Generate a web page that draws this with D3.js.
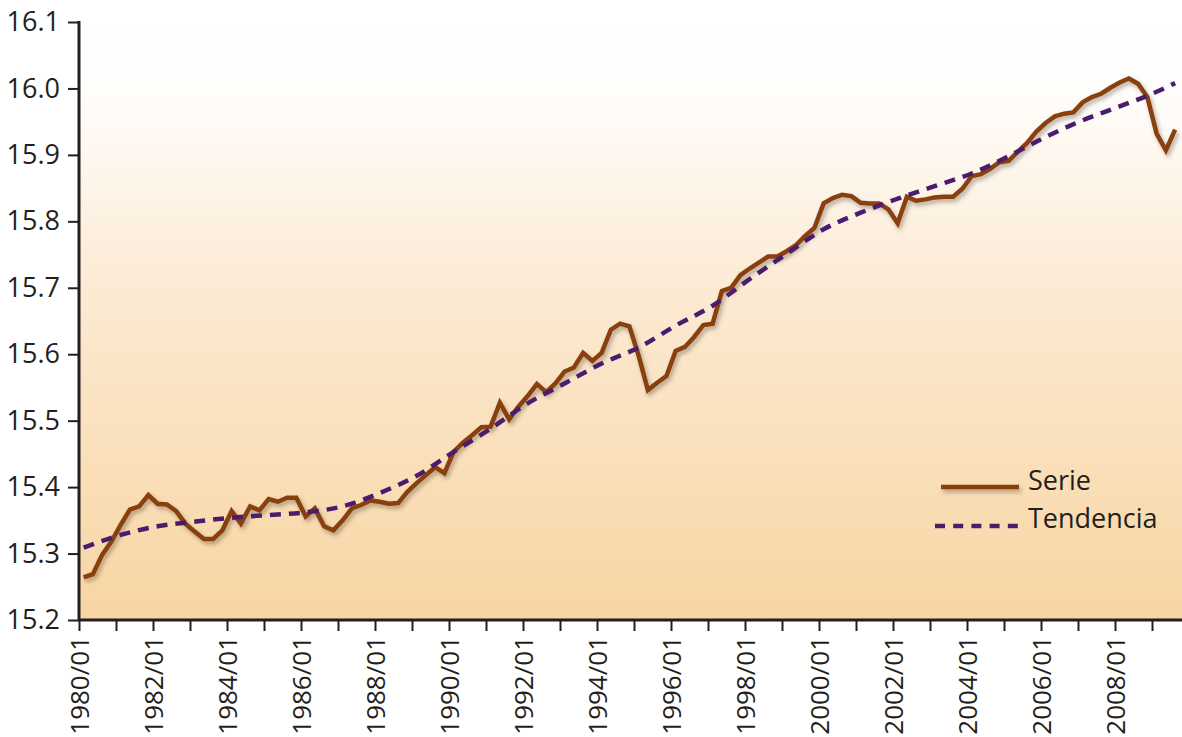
<!DOCTYPE html>
<html>
<head>
<meta charset="utf-8">
<script src="https://cdnjs.cloudflare.com/ajax/libs/d3/7.8.5/d3.min.js"></script>
<style>
  body { margin: 0; background: #fff; }
  svg { display: block; }
</style>
</head>
<body>
<script>
// quarterly series, 1980 Q1 .. 2009 Q3
var serie = [
  15.264, 15.269, 15.298, 15.318, 15.343, 15.366, 15.371, 15.388, 15.375, 15.374,
  15.364, 15.345, 15.333, 15.322, 15.322, 15.335, 15.364, 15.345, 15.371, 15.365,
  15.382, 15.378, 15.384, 15.384, 15.356, 15.368, 15.341, 15.335, 15.350, 15.368,
  15.373, 15.380, 15.378, 15.375, 15.376, 15.393, 15.406, 15.418, 15.430, 15.421,
  15.453, 15.467, 15.478, 15.490, 15.491, 15.527, 15.502, 15.521, 15.537, 15.555,
  15.543, 15.556, 15.574, 15.580, 15.602, 15.590, 15.602, 15.637, 15.646, 15.642,
  15.598, 15.546, 15.557, 15.567, 15.605, 15.611, 15.626, 15.644, 15.646, 15.695,
  15.700, 15.719, 15.729, 15.738, 15.747, 15.747, 15.755, 15.764, 15.778, 15.790,
  15.827, 15.835, 15.840, 15.838, 15.828, 15.827, 15.827, 15.818, 15.797, 15.837,
  15.831, 15.833, 15.836, 15.837, 15.837, 15.849, 15.868, 15.871, 15.879, 15.889,
  15.891, 15.905, 15.918, 15.935, 15.948, 15.958, 15.962, 15.964, 15.979, 15.987,
  15.992, 16.001, 16.009, 16.015, 16.007, 15.987, 15.932, 15.907, 15.938
];

// trend read at each first quarter, plus the last quarter
var trendQuarter = [0, 4, 8, 12, 16, 20, 24, 28, 32, 36, 40, 44, 48, 52, 56, 60,
  64, 68, 72, 76, 80, 84, 88, 92, 96, 100, 104, 108, 112, 116, 118];
var trendValues = [15.309, 15.328, 15.341, 15.348, 15.354, 15.358, 15.362, 15.371,
  15.391, 15.417, 15.453, 15.488, 15.526, 15.556, 15.586, 15.610, 15.643, 15.673,
  15.713, 15.751, 15.788, 15.813, 15.834, 15.853, 15.872, 15.898, 15.927, 15.952,
  15.973, 15.995, 16.008];

var years = d3.range(1980, 2010);
var yTicks = [15.2, 15.3, 15.4, 15.5, 15.6, 15.7, 15.8, 15.9, 16.0, 16.1];

var w = 1182, h = 737;
var plotLeft = 79, plotTop = 22, plotBottom = 620;
var qw = 9.25;
var font = "'Open Sans', 'Noto Sans', sans-serif";

var svg = d3.select("body").append("svg")
  .attr("width", w)
  .attr("height", h);

var defs = svg.append("defs");
var grad = defs.append("linearGradient")
  .attr("id", "bg")
  .attr("x1", 0).attr("y1", 0).attr("x2", 0).attr("y2", 1);
grad.append("stop").attr("offset", "0%").attr("stop-color", "#ffffff");
grad.append("stop").attr("offset", "12%").attr("stop-color", "#fffdfb");
grad.append("stop").attr("offset", "45%").attr("stop-color", "#fcead3");
grad.append("stop").attr("offset", "100%").attr("stop-color", "#f8d5a2");

var shadow = defs.append("filter")
  .attr("id", "shadow")
  .attr("filterUnits", "userSpaceOnUse")
  .attr("x", 0).attr("y", 0).attr("width", w).attr("height", h);
shadow.append("feDropShadow")
  .attr("dx", 2).attr("dy", 3)
  .attr("stdDeviation", 2)
  .attr("flood-color", "#5a4a3a")
  .attr("flood-opacity", 0.45);

var x = d3.scaleLinear()
  .domain([0, 120])
  .range([plotLeft, plotLeft + 120 * qw]);

var y = d3.scaleLinear()
  .domain([15.2, 16.1])
  .range([plotBottom, plotTop]);

// background
svg.append("rect")
  .attr("x", plotLeft)
  .attr("y", plotTop)
  .attr("width", w - plotLeft)
  .attr("height", plotBottom - plotTop)
  .attr("fill", "url(#bg)");

// SERIE
var serieLine = d3.line()
  .x(function(d, i) { return x(i + 0.5); })
  .y(function(d) { return y(d); });

svg.append("path")
  .datum(serie)
  .attr("d", serieLine)
  .attr("fill", "none")
  .attr("stroke", "#8a3f0e")
  .attr("stroke-width", 4.5)
  .attr("stroke-linejoin", "miter")
  .attr("filter", "url(#shadow)");

// TENDENCIA
var trendLine = d3.line()
  .x(function(d, i) { return x(trendQuarter[i] + 0.5); })
  .y(function(d) { return y(d); })
  .curve(d3.curveMonotoneX);

svg.append("path")
  .datum(trendValues)
  .attr("d", trendLine)
  .attr("fill", "none")
  .attr("stroke", "#4b1c6e")
  .attr("stroke-width", 4.5)
  .attr("stroke-dasharray", "11,8");

// Y AXIS
var yAxis = d3.axisLeft(y)
  .tickValues(yTicks)
  .tickFormat(d3.format(".1f"))
  .tickSize(11)
  .tickPadding(8);

var gy = svg.append("g")
  .attr("transform", "translate(" + plotLeft + ",0)")
  .call(yAxis);
gy.select(".domain").remove();
gy.append("line")
  .attr("x1", 0).attr("x2", 0)
  .attr("y1", plotTop - 1).attr("y2", plotBottom + 1)
  .attr("stroke", "#231f20").attr("stroke-width", 3);
gy.selectAll(".tick line").attr("stroke", "#231f20").attr("stroke-width", 2);
gy.selectAll(".tick text")
  .attr("font-family", font)
  .attr("font-size", "27px")
  .attr("fill", "#231f20");

// X AXIS
var xAxis = d3.axisBottom(x)
  .tickValues(years.map(function(d) { return (d - 1980) * 4; }))
  .tickFormat(function(d) {
    var yr = 1980 + d / 4;
    return yr % 2 === 0 ? yr + "/01" : "";
  })
  .tickSize(11);

var gx = svg.append("g")
  .attr("transform", "translate(0," + plotBottom + ")")
  .call(xAxis);
gx.select(".domain").remove();
gx.append("line")
  .attr("x1", plotLeft - 1).attr("x2", w)
  .attr("y1", 0).attr("y2", 0)
  .attr("stroke", "#231f20").attr("stroke-width", 3);
gx.selectAll(".tick line").attr("stroke", "#231f20").attr("stroke-width", 2);
gx.selectAll(".tick text")
  .attr("font-family", font)
  .attr("font-size", "26px")
  .attr("fill", "#231f20")
  .attr("text-anchor", "end")
  .attr("dy", "0.35em")
  .attr("transform", "translate(0,16) rotate(-90)")
  .attr("x", 0)
  .attr("y", 0);

// LEGEND
var legend = svg.append("g");
legend.append("line")
  .attr("x1", 941).attr("x2", 1019)
  .attr("y1", 487).attr("y2", 487)
  .attr("stroke", "#8a3f0e").attr("stroke-width", 4.5)
  .attr("filter", "url(#shadow)");
legend.append("line")
  .attr("x1", 935).attr("x2", 1018)
  .attr("y1", 526).attr("y2", 526)
  .attr("stroke", "#4b1c6e").attr("stroke-width", 4.5)
  .attr("stroke-dasharray", "10,8.2");
legend.append("text")
  .attr("x", 1028).attr("y", 490)
  .attr("font-family", font).attr("font-size", "27px")
  .attr("fill", "#231f20")
  .text("Serie");
legend.append("text")
  .attr("x", 1028).attr("y", 528)
  .attr("font-family", font).attr("font-size", "27px")
  .attr("fill", "#231f20")
  .text("Tendencia");
</script>
</body>
</html>
